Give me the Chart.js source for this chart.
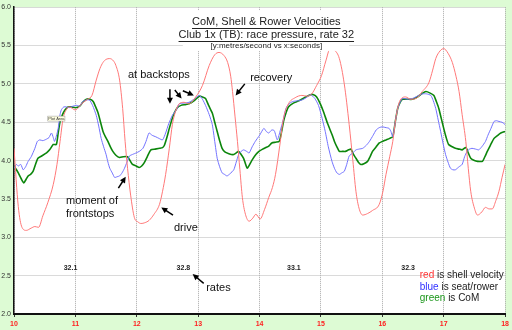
<!DOCTYPE html>
<html>
<head>
<meta charset="utf-8">
<script src="https://cdn.jsdelivr.net/npm/chart.js@4.4.1/dist/chart.umd.min.js"></script>
<style>
  html, body { margin: 0; padding: 0; background: #ddfbd4; }
</style>
</head>
<body>
<canvas id="velChart" width="512" height="330"></canvas>
<script>
// velocidades: [segundos, m/s]
const shellVelocity = [
  [10.00,4.16],[10.07,3.40],[10.13,3.13],[10.20,3.09],[10.28,3.12],[10.34,3.14],[10.40,3.13],[10.47,3.28],
  [10.55,3.45],[10.64,3.69],[10.70,3.95],[10.75,4.25],[10.80,4.55],[10.85,4.66],[10.90,4.70],[11.00,4.66],
  [11.10,4.74],[11.20,4.80],[11.27,4.85],[11.34,5.05],[11.40,5.20],[11.45,5.28],[11.50,5.32],[11.56,5.33],
  [11.62,5.30],[11.66,5.24],[11.72,5.05],[11.77,4.68],[11.81,4.25],[11.85,3.90],[11.90,3.55],[11.96,3.26],
  [12.02,3.20],[12.07,3.18],[12.13,3.19],[12.20,3.22],[12.28,3.30],[12.37,3.43],[12.42,3.60],[12.47,3.82],
  [12.53,4.16],[12.58,4.47],[12.64,4.66],[12.69,4.74],[12.77,4.76],[12.85,4.74],[12.96,4.83],[13.07,4.98],
  [13.18,5.24],[13.27,5.38],[13.34,5.41],[13.42,5.37],[13.48,5.28],[13.53,5.10],[13.56,4.90],[13.60,4.58],
  [13.64,4.25],[13.68,3.88],[13.72,3.52],[13.77,3.30],[13.83,3.21],[13.89,3.25],[13.94,3.30],[14.01,3.24],
  [14.08,3.36],[14.15,3.52],[14.21,3.65],[14.26,3.82],[14.33,4.20],[14.39,4.55],[14.47,4.74],[14.58,4.82],
  [14.69,4.85],[14.78,4.84],[14.85,4.87],[14.93,4.98],[15.01,5.11],[15.08,5.30],[15.15,5.46],[15.22,5.44],
  [15.30,5.33],[15.38,5.00],[15.46,4.47],[15.52,4.00],[15.57,3.60],[15.62,3.38],[15.68,3.29],[15.76,3.31],
  [15.84,3.35],[15.95,3.43],[16.01,3.60],[16.06,3.82],[16.12,4.05],[16.17,4.25],[16.22,4.55],[16.28,4.77],
  [16.38,4.83],[16.46,4.80],[16.55,4.81],[16.65,4.90],[16.76,5.02],[16.82,5.18],[16.87,5.33],[16.94,5.43],
  [17.00,5.46],[17.07,5.40],[17.14,5.28],[17.20,5.10],[17.25,4.90],[17.30,4.60],[17.36,4.25],[17.40,3.90],
  [17.44,3.60],[17.50,3.38],[17.55,3.29],[17.62,3.33],[17.68,3.39],[17.74,3.37],[17.79,3.37],[17.85,3.48],
  [17.90,3.60],[17.95,3.78],[18.00,3.95]
];

const seatVelocity = [
  [10.00,3.90],[10.04,3.95],[10.07,3.93],[10.11,3.95],[10.15,3.88],[10.19,3.92],[10.23,3.99],[10.28,4.05],
  [10.34,4.16],[10.38,4.25],[10.42,4.27],[10.47,4.26],[10.53,4.28],[10.57,4.30],[10.61,4.36],[10.64,4.30],
  [10.66,4.25],[10.69,4.32],[10.72,4.42],[10.75,4.60],[10.77,4.66],[10.81,4.70],[10.85,4.70],[10.90,4.69],
  [10.96,4.71],[11.02,4.72],[11.07,4.71],[11.12,4.77],[11.18,4.79],[11.23,4.79],[11.28,4.72],[11.34,4.59],
  [11.38,4.45],[11.42,4.29],[11.46,4.18],[11.50,4.08],[11.53,3.98],[11.56,3.90],[11.60,3.84],[11.64,3.78],
  [11.68,3.79],[11.72,3.80],[11.76,3.84],[11.80,3.90],[11.84,3.98],[11.88,4.06],[11.93,4.08],[11.99,4.10],
  [12.04,4.12],[12.10,4.16],[12.15,4.25],[12.20,4.36],[12.25,4.33],[12.31,4.31],[12.36,4.29],[12.42,4.27],
  [12.47,4.36],[12.52,4.48],[12.58,4.59],[12.66,4.68],[12.69,4.74],[12.77,4.75],[12.85,4.76],[12.93,4.80],
  [13.02,4.85],[13.07,4.80],[13.12,4.72],[13.18,4.60],[13.23,4.47],[13.27,4.25],[13.31,4.03],[13.35,3.92],
  [13.39,3.84],[13.43,3.82],[13.47,3.80],[13.52,3.83],[13.58,3.88],[13.62,3.98],[13.66,4.08],[13.70,4.12],
  [13.74,4.14],[13.79,4.12],[13.83,4.10],[13.88,4.18],[13.93,4.25],[14.00,4.33],[14.07,4.42],[14.11,4.38],
  [14.15,4.36],[14.20,4.40],[14.24,4.39],[14.29,4.27],[14.34,4.40],[14.38,4.51],[14.43,4.68],[14.48,4.74],
  [14.54,4.77],[14.62,4.78],[14.69,4.79],[14.76,4.82],[14.83,4.86],[14.90,4.81],[14.96,4.72],[15.02,4.55],
  [15.07,4.38],[15.12,4.18],[15.18,3.99],[15.22,3.90],[15.26,3.84],[15.30,3.82],[15.34,3.84],[15.38,3.86],
  [15.42,3.95],[15.46,4.06],[15.52,4.10],[15.57,4.14],[15.62,4.15],[15.68,4.16],[15.74,4.20],[15.79,4.25],
  [15.85,4.33],[15.90,4.40],[15.95,4.43],[16.00,4.44],[16.06,4.43],[16.11,4.42],[16.14,4.38],[16.17,4.31],
  [16.21,4.50],[16.25,4.68],[16.29,4.76],[16.33,4.81],[16.41,4.80],[16.49,4.81],[16.57,4.84],[16.65,4.87],
  [16.72,4.87],[16.79,4.85],[16.83,4.78],[16.87,4.68],[16.91,4.53],[16.95,4.38],[16.99,4.22],[17.03,4.08],
  [17.07,3.98],[17.11,3.90],[17.15,3.88],[17.19,3.88],[17.25,3.92],[17.30,3.95],[17.34,4.05],[17.38,4.12],
  [17.42,4.15],[17.46,4.16],[17.52,4.15],[17.57,4.14],[17.62,4.18],[17.68,4.25],[17.72,4.33],[17.77,4.42],
  [17.82,4.51],[17.86,4.52],[17.90,4.51],[17.95,4.50],[18.00,4.47]
];

const comVelocity = [
  [10.00,3.93],[10.04,3.88],[10.07,3.84],[10.12,3.76],[10.16,3.71],[10.20,3.76],[10.23,3.80],[10.27,3.82],
  [10.31,3.86],[10.35,3.95],[10.39,4.03],[10.45,4.06],[10.53,4.10],[10.58,4.14],[10.64,4.21],[10.69,4.21],
  [10.72,4.36],[10.75,4.51],[10.79,4.60],[10.83,4.66],[10.88,4.70],[10.94,4.70],[11.00,4.69],[11.07,4.71],
  [11.12,4.76],[11.18,4.80],[11.24,4.80],[11.29,4.77],[11.33,4.70],[11.37,4.62],[11.41,4.50],[11.45,4.38],
  [11.49,4.31],[11.53,4.25],[11.57,4.18],[11.61,4.12],[11.66,4.07],[11.72,4.04],[11.78,4.05],[11.85,4.05],
  [11.89,4.00],[11.93,3.95],[11.99,3.93],[12.04,3.91],[12.08,3.93],[12.12,3.97],[12.17,4.05],[12.23,4.14],
  [12.30,4.15],[12.37,4.16],[12.42,4.17],[12.45,4.20],[12.49,4.30],[12.53,4.42],[12.57,4.53],[12.61,4.62],
  [12.66,4.69],[12.72,4.72],[12.79,4.73],[12.85,4.74],[12.93,4.78],[13.02,4.84],[13.07,4.83],[13.12,4.81],
  [13.17,4.72],[13.23,4.62],[13.27,4.50],[13.31,4.38],[13.35,4.26],[13.39,4.16],[13.44,4.11],[13.50,4.09],
  [13.54,4.08],[13.58,4.08],[13.62,4.10],[13.66,4.12],[13.70,4.08],[13.74,4.03],[13.77,3.96],[13.80,3.90],
  [13.84,3.95],[13.88,4.01],[13.94,4.08],[13.99,4.12],[14.05,4.15],[14.10,4.17],[14.15,4.19],[14.20,4.23],
  [14.26,4.24],[14.32,4.25],[14.36,4.38],[14.39,4.51],[14.43,4.62],[14.47,4.70],[14.55,4.75],[14.64,4.78],
  [14.73,4.82],[14.83,4.86],[14.88,4.86],[14.93,4.83],[14.99,4.74],[15.04,4.64],[15.11,4.48],[15.18,4.34],
  [15.22,4.25],[15.26,4.18],[15.30,4.12],[15.35,4.12],[15.40,4.12],[15.45,4.14],[15.49,4.15],[15.53,4.08],
  [15.57,4.03],[15.61,3.98],[15.65,3.95],[15.70,3.96],[15.76,3.99],[15.80,4.05],[15.84,4.12],[15.90,4.18],
  [15.95,4.23],[16.00,4.25],[16.06,4.27],[16.12,4.29],[16.17,4.31],[16.21,4.50],[16.25,4.68],[16.29,4.76],
  [16.33,4.80],[16.41,4.80],[16.49,4.80],[16.57,4.83],[16.64,4.87],[16.71,4.90],[16.78,4.88],[16.84,4.85],
  [16.88,4.77],[16.92,4.68],[16.96,4.55],[17.00,4.42],[17.04,4.30],[17.08,4.21],[17.14,4.18],[17.19,4.16],
  [17.25,4.15],[17.30,4.14],[17.36,4.17],[17.40,4.10],[17.44,4.03],[17.50,4.00],[17.55,3.99],[17.63,3.99],
  [17.67,4.05],[17.71,4.12],[17.76,4.20],[17.82,4.29],[17.88,4.33],[17.93,4.36],[18.00,4.38]
];

// ritmos de palada
const rateTimes = [10.92, 12.76, 14.56, 16.42];
const rateLabels = ['32.1', '32.8', '33.1', '32.3'];

const titleLines = ['CoM, Shell & Rower Velocities', 'Club 1x (TB): race pressure, rate 32'];
const subTitle = '[y:metres/second vs x:seconds]';
const legendLines = [['red', ' is shell velocity', '#ff3030'], ['blue', ' is seat/rower', '#3030ff'], ['green', ' is CoM', '#1a961a']];

// notas en coordenadas de datos (t, v)
const notes = [
  ['at backstops', 12.36, 5.12], ['recovery', 14.19, 5.08], ['moment of', 11.27, 3.48],
  ['frontstops', 11.24, 3.31], ['drive', 12.80, 3.12], ['rates', 13.33, 2.34]
];
const arrows = [
  [12.54, 4.93, 12.54, 4.74], [12.62, 4.92, 12.73, 4.81], [12.75, 4.91, 12.93, 4.85],
  [13.76, 5.00, 13.61, 4.85], [11.70, 3.64, 11.82, 3.79], [12.59, 3.29, 12.40, 3.39],
  [13.09, 2.40, 12.91, 2.52]
];

const toPoints = arr => arr.map(p => ({ x: p[0], y: p[1] }));
const FONT = "'Liberation Sans', Arial, sans-serif";

// fondo verde y área blanca
const backgroundPlugin = {
  id: 'bg',
  beforeDraw(chart) {
    const { ctx, chartArea: a } = chart;
    ctx.save();
    ctx.fillStyle = '#ddfbd4';
    ctx.fillRect(0, 0, chart.width, chart.height);
    ctx.fillStyle = '#ffffff';
    ctx.fillRect(a.left, a.top, a.right - a.left, a.bottom - a.top);
    ctx.restore();
  }
};

function drawArrow(ctx, x1, y1, x2, y2) {
  const ang = Math.atan2(y2 - y1, x2 - x1);
  ctx.beginPath();
  ctx.moveTo(x1, y1);
  ctx.lineTo(x2 - 3 * Math.cos(ang), y2 - 3 * Math.sin(ang));
  ctx.stroke();
  ctx.beginPath();
  ctx.moveTo(x2, y2);
  ctx.lineTo(x2 - 6 * Math.cos(ang) + 3 * Math.sin(ang), y2 - 6 * Math.sin(ang) - 3 * Math.cos(ang));
  ctx.lineTo(x2 - 6 * Math.cos(ang) - 3 * Math.sin(ang), y2 - 6 * Math.sin(ang) + 3 * Math.cos(ang));
  ctx.closePath();
  ctx.fill();
}

const notesPlugin = {
  id: 'notes',
  afterDraw(chart) {
    const { ctx } = chart;
    const X = chart.scales.x, Y = chart.scales.y;
    const px = t => X.getPixelForValue(t), py = v => Y.getPixelForValue(v);
    ctx.save();

    // caja del título
    ctx.fillStyle = '#ffffff';
    ctx.fillRect(px(12.75), py(5.96), px(15.46) - px(12.75), py(5.43) - py(5.96));
    ctx.fillStyle = '#222';
    ctx.strokeStyle = '#222';
    ctx.lineWidth = 1;
    ctx.textAlign = 'center';
    ctx.textBaseline = 'middle';
    ctx.font = '11px ' + FONT;
    [5.806, 5.639].forEach((v, i) => {
      const cx = px(14.11), cy = py(v);
      ctx.fillText(titleLines[i], cx, cy);
      const w = ctx.measureText(titleLines[i]).width;
      ctx.beginPath();
      ctx.moveTo(cx - w / 2, Math.round(cy + 6) + 0.5);
      ctx.lineTo(cx + w / 2, Math.round(cy + 6) + 0.5);
      ctx.stroke();
    });
    ctx.font = '8px ' + FONT;
    ctx.fillText(subTitle, px(14.11), py(5.497));

    // notas y flechas
    ctx.fillStyle = '#111';
    ctx.font = '11px ' + FONT;
    notes.forEach(n => ctx.fillText(n[0], px(n[1]), py(n[2])));
    ctx.strokeStyle = '#000';
    ctx.fillStyle = '#000';
    ctx.lineWidth = 1.5;
    arrows.forEach(a => drawArrow(ctx, px(a[0]), py(a[1]), px(a[2]), py(a[3])));

    // ritmos
    ctx.fillStyle = '#222';
    ctx.font = 'bold 7px ' + FONT;
    rateTimes.forEach((t, i) => ctx.fillText(rateLabels[i], px(t), py(2.594)));

    // leyenda
    ctx.textAlign = 'left';
    ctx.font = '10px ' + FONT;
    [2.503, 2.352, 2.203].forEach((v, i) => {
      const [w1, w2, col] = legendLines[i];
      const x0 = px(16.61);
      ctx.fillStyle = col;
      ctx.fillText(w1, x0, py(v));
      ctx.fillStyle = '#222';
      ctx.fillText(w2, x0 + ctx.measureText(w1).width, py(v));
    });

    // etiqueta "Plot Area"
    const bx = px(10.55), by = py(4.58);
    ctx.fillStyle = '#ffffe1';
    ctx.fillRect(bx, by, px(10.83) - bx, py(4.515) - by);
    ctx.strokeStyle = '#999';
    ctx.lineWidth = 0.5;
    ctx.strokeRect(bx, by, px(10.83) - bx, py(4.515) - by);
    ctx.fillStyle = '#333';
    ctx.font = '4px ' + FONT;
    ctx.textAlign = 'center';
    ctx.fillText('Plot Area', (bx + px(10.83)) / 2, (by + py(4.515)) / 2);
    ctx.restore();
  }
};

const ctx = document.getElementById('velChart').getContext('2d');
const velChart = new Chart(ctx, {
  type: 'line',
  data: {
    datasets: [
      { label: 'shell', data: toPoints(shellVelocity), borderColor: '#ff7878', borderWidth: 1, cubicInterpolationMode: 'monotone' },
      { label: 'seat', data: toPoints(seatVelocity), borderColor: '#7272ff', borderWidth: 1, tension: 0.2 },
      { label: 'CoM', data: toPoints(comVelocity), borderColor: '#0c860c', borderWidth: 1.6, tension: 0.2 }
    ]
  },
  options: {
    responsive: false,
    animation: false,
    layout: { padding: { top: 4, right: 6, left: 0, bottom: 0 } },
    elements: { point: { radius: 0 } },
    plugins: { legend: { display: false }, tooltip: { enabled: false } },
    scales: {
      x: {
        type: 'linear', min: 10, max: 18,
        afterFit: s => { s.height = 16; },
        ticks: { stepSize: 1, color: '#ff2020', font: { size: 7, weight: 'bold', family: FONT }, padding: 3, maxRotation: 0 },
        grid: { color: '#a8a8a8', lineWidth: 1, tickLength: 3, tickColor: '#333' },
        border: { color: '#111', width: 2, dash: [1, 1] }
      },
      y: {
        min: 2, max: 6,
        afterFit: s => { s.width = 14; },
        ticks: { stepSize: 0.5, color: '#333', font: { size: 7, family: FONT }, padding: 3, callback: v => v.toFixed(1) },
        grid: { color: '#b4b4b4', lineWidth: 1, drawTicks: false },
        border: { color: '#111', width: 1.5, dash: [1, 1] }
      }
    }
  },
  plugins: [backgroundPlugin, notesPlugin]
});
</script>
</body>
</html>
